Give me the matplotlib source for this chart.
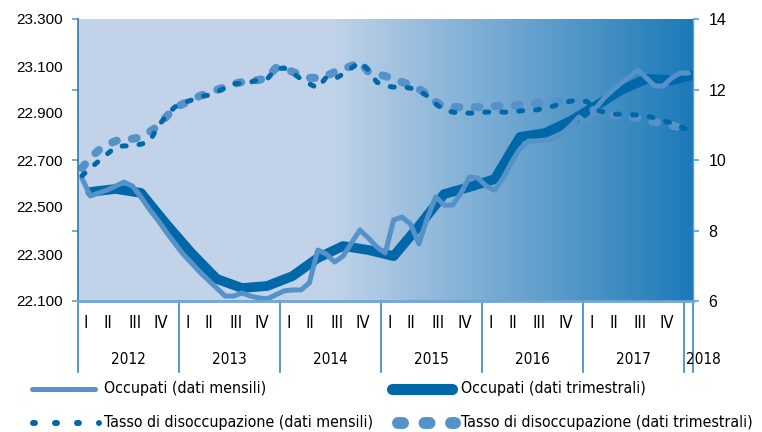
import numpy as np
import matplotlib.pyplot as plt
from matplotlib.lines import Line2D

# dati mensili gen 2012 - gen 2018 (migliaia)
occupati_mensili = [
    22623, 22547, 22560, 22572, 22589, 22606, 22589, 22543, 22491, 22445, 22394, 22347,
    22300, 22262, 22223, 22189, 22155, 22121, 22121, 22134, 22121, 22113, 22109, 22126,
    22143, 22147, 22147, 22177, 22317, 22300, 22266, 22291, 22347, 22402, 22368, 22330,
    22304, 22445, 22457, 22428, 22343, 22453, 22543, 22508, 22508, 22560, 22628, 22623,
    22589, 22572, 22623, 22691, 22747, 22781, 22781, 22785, 22789, 22811, 22845, 22883,
    22853, 22921, 22964, 22998, 23028, 23053, 23083, 23049, 23015, 23015, 23049, 23070,
    23070]
# dati trimestrali I 2012 - I 2018
occupati_trimestrali = [
    22564, 22577, 22560, 22428, 22304, 22194, 22155, 22164, 22206, 22283, 22334, 22317,
    22291, 22419, 22555, 22585, 22619, 22798, 22815, 22866, 22930, 22998, 23045, 23040,
    23066]
# tasso di disoccupazione (%)
tasso_mensile = [
    9.55, 9.77, 9.97, 10.17, 10.37, 10.40, 10.40, 10.45, 10.51, 10.94, 11.25, 11.50,
    11.62, 11.70, 11.79, 11.84, 11.93, 12.04, 12.16, 12.18, 12.21, 12.27, 12.30, 12.58,
    12.61, 12.47, 12.30, 12.16, 12.04, 12.35, 12.30, 12.44, 12.61, 12.78, 12.55, 12.21,
    12.10, 12.07, 12.07, 12.04, 11.96, 11.82, 11.59, 11.42, 11.36, 11.33, 11.33, 11.33,
    11.36, 11.36, 11.36, 11.36, 11.39, 11.42, 11.42, 11.48, 11.53, 11.62, 11.67, 11.70,
    11.65, 11.42, 11.36, 11.30, 11.30, 11.28, 11.28, 11.25, 11.19, 11.11, 11.05, 10.94,
    10.85]
tasso_trimestrale = [
    9.77, 10.06, 10.28, 10.43, 10.54, 10.60, 10.60, 10.65, 10.79, 10.96, 11.22, 11.48,
    11.59, 11.70, 11.82, 11.90, 11.99, 12.07, 12.16, 12.21, 12.24, 12.27, 12.33, 12.61,
    12.61, 12.50, 12.41, 12.33, 12.33, 12.38, 12.50, 12.58, 12.67, 12.78, 12.50, 12.44,
    12.38, 12.30, 12.21, 12.13, 12.01, 11.87, 11.65, 11.50, 11.50, 11.50, 11.50, 11.50,
    11.50, 11.53, 11.53, 11.53, 11.56, 11.59, 11.62, 11.62, 11.65, 11.65, 11.67, 11.62,
    11.48, 11.39, 11.33, 11.28, 11.25, 11.22, 11.19, 11.13, 11.08, 11.02, 10.99, 10.91,
    10.85]

anni = [2012, 2013, 2014, 2015, 2016, 2017, 2018]
trimestri = ['I', 'II', 'III', 'IV']
tick_sx = [22100, 22300, 22500, 22700, 22900, 23100, 23300]
tick_dx = [6, 8, 10, 12, 14]

CHIARO = '#5592c9'
SCURO = '#0067a9'
STRETTO = dict(family='DejaVu Sans', stretch='condensed')
plt.rcParams['font.family'] = ['Liberation Sans', 'DejaVu Sans']

W, H = 762, 432
fig = plt.figure(figsize=(W / 100, H / 100), dpi=100)
ax = fig.add_axes([77.7 / W, 1 - 301 / H, 615 / W, 282 / H])
ax2 = ax.twinx()

# sfondo sfumato
f = np.linspace(0, 1, 500)
t = np.clip((f - 0.41) / 0.59, 0, 1)
c0 = np.array([194, 211, 233]) / 255
c1 = np.array([28, 122, 184]) / 255
grad = c0 + t[:, None] * (c1 - c0)
ax.imshow(grad[None], extent=[0, 1, 0, 1], transform=ax.transAxes,
          aspect='auto', zorder=0, interpolation='bilinear')

xm = np.arange(len(occupati_mensili)) + 0.5
xq = np.arange(len(occupati_trimestrali)) * 3 + 1.5

ax.plot(xq, occupati_trimestrali, color=SCURO, lw=7, solid_joinstyle='round',
        solid_capstyle='round', zorder=2)
ax.plot(xm, occupati_mensili, color=CHIARO, lw=3.6, solid_joinstyle='round',
        solid_capstyle='round', zorder=3)

ax2.plot(xm, tasso_trimestrale, color=CHIARO, lw=5.8, dashes=(0.6, 1.9),
         dash_capstyle='round', dash_joinstyle='round')
ax2.plot(xm, tasso_mensile, color=SCURO, lw=3.6, dashes=(0.8, 2.6),
         dash_capstyle='round', dash_joinstyle='round')

ax.set_xlim(0, 73)
ax.set_ylim(22100, 23300)
ax2.set_ylim(6, 14)

ax.set_xticks([])
ax.set_yticks(tick_sx)
ax.set_yticklabels([f'{v:,}'.replace(',', '.') for v in tick_sx])
ax.tick_params(axis='y', length=0, pad=11, labelsize=11)

ax2.set_yticks(tick_dx)
ax2.tick_params(axis='y', left=True, right=True, labelleft=False, labelright=True,
                length=4.3, width=1.2, color='#5a9fd6', pad=7, labelsize=11.5)

for s in ax.spines.values():
    s.set_visible(False)
ax2.spines['top'].set_visible(False)
ax2.spines['left'].set_color('#2c7bb6')
ax2.spines['left'].set_linewidth(1.2)
ax2.spines['bottom'].set_color('#6ea6d8')
ax2.spines['bottom'].set_linewidth(2)
ax2.spines['right'].set_color('#5a9fd6')
ax2.spines['right'].set_linewidth(1)

# asse delle categorie
tr = ax.get_xaxis_transform()
for b in list(range(0, 73, 12)) + [73]:
    ax.plot([b, b], [0, -0.252], transform=tr, clip_on=False, color='#3a87c6', lw=1.2)
q_off = [1.0, 3.6, 6.8, 9.9]
for k, anno in enumerate(anni[:-1]):
    for q, off in zip(trimestri, q_off):
        ax.text(12 * k + off, -0.078, q, transform=tr, ha='center', va='center',
                fontsize=12, **STRETTO)
    ax.text(12 * k + 6, -0.206, str(anno), transform=tr, ha='center', va='center',
            fontsize=11, **STRETTO)
ax.text(72.2, -0.206, str(anni[-1]), transform=tr, ha='left', va='center',
        fontsize=11, **STRETTO)

# legenda
def px(x, y):
    return x / W, 1 - y / H

def voce(x0, x1, y, testo, tx, **kw):
    (a, yy), (b, _) = px(x0, y), px(x1, y)
    fig.add_artist(Line2D([a, b], [yy, yy], transform=fig.transFigure, **kw))
    fig.text(*px(tx, y), testo, ha='left', va='center', fontsize=11.4, **STRETTO)

voce(32, 95, 389, 'Occupati (dati mensili)', 104, color=CHIARO, lw=3.6,
     solid_capstyle='round')
voce(392, 452, 389, 'Occupati (dati trimestrali)', 461, color=SCURO, lw=8,
     solid_capstyle='round')
voce(33, 99, 423, 'Tasso di disoccupazione (dati mensili)', 104, color=SCURO, lw=4.3,
     dashes=(0.33, 3.35), dash_capstyle='round')
voce(398, 455, 423, 'Tasso di disoccupazione (dati trimestrali)', 461, color=CHIARO,
     lw=8.6, dashes=(0.42, 1.8), dash_capstyle='round')

fig.savefig('out.png', dpi=100)
